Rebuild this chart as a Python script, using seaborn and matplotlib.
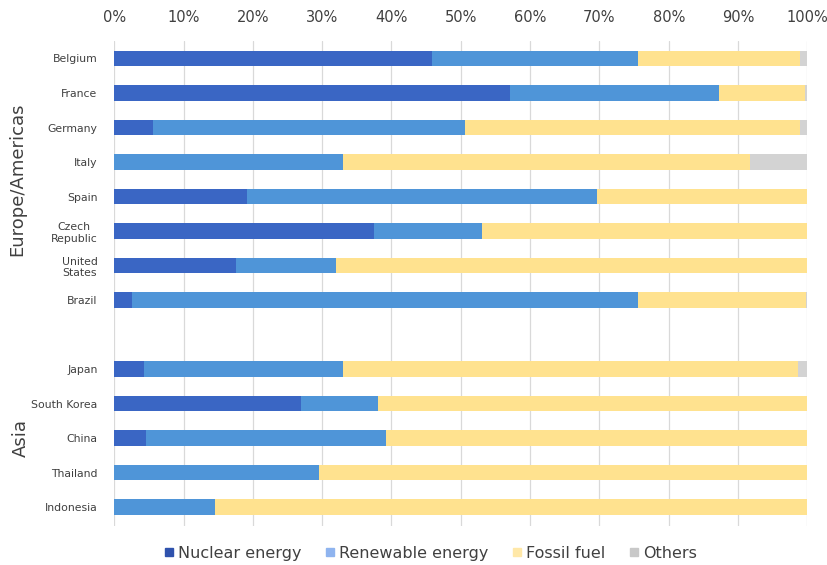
import numpy as np
import pandas as pd
import matplotlib
matplotlib.use("Agg")
import matplotlib.pyplot as plt
import matplotlib.transforms as mtransforms
from matplotlib.lines import Line2D
import seaborn as sns

# Electricity generation mix by source (% share)
europe_americas = ["Belgium", "France", "Germany", "Italy", "Spain",
                   "Czech\nRepublic", "United\nStates", "Brazil"]
asia = ["Japan", "South Korea", "China", "Thailand", "Indonesia"]
countries = europe_americas + asia

nuclear   = [45.9, 57.1, 5.6, 0.0, 19.2, 37.5, 17.6, 2.5, 4.3, 27.0, 4.6, 0.0, 0.0]
renewable = [29.6, 30.1, 45.0, 33.0, 50.5, 15.5, 14.4, 73.0, 28.7, 11.1, 34.6, 29.6, 14.6]
fossil    = [23.5, 12.5, 48.4, 58.8, 30.3, 47.0, 68.0, 24.3, 65.7, 61.9, 60.8, 70.4, 85.4]
others    = [1.0, 0.3, 1.0, 8.2, 0.0, 0.0, 0.0, 0.2, 1.3, 0.0, 0.0, 0.0, 0.0]

sources = ["Nuclear energy", "Renewable energy", "Fossil fuel", "Others"]
colors = ["#3a66c4", "#4f95d8", "#ffe28f", "#d3d3d3"]

df = pd.DataFrame({"country": countries, "Nuclear energy": nuclear,
                   "Renewable energy": renewable, "Fossil fuel": fossil,
                   "Others": others})
# cumulative right-hand edge of each stacked segment
cum = df[sources].cumsum(axis=1)

spacer = " "
order = europe_americas + [spacer] + asia

sns.set_style("white")
plt.rcParams["font.family"] = ["DejaVu Sans"]

fig = plt.figure(figsize=(8.28, 5.65), dpi=100)
ax = fig.add_axes([0.138, 0.069, 0.837, 0.858])

# draw widest cumulative bars first so shorter ones sit on top
for src, col in reversed(list(zip(sources, colors))):
    sns.barplot(x=cum[src], y=df["country"], order=order, color=col,
                orient="h", width=0.44, saturation=1, linewidth=0,
                ax=ax, zorder=3)

ax.set_xlim(0, 100)
ax.set_ylim(len(order) - 0.45, -0.5)
ax.xaxis.tick_top()
ax.set_xticks(np.arange(0, 101, 10))
ax.set_xticklabels([f"{v}%" for v in range(0, 101, 10)], fontsize=10.5,
                   color="#404040")
ax.tick_params(axis="x", length=0, pad=12)
ax.tick_params(axis="y", length=0, pad=12, labelsize=7.8, labelcolor="#404040")
for lbl in ax.get_yticklabels():
    lbl.set_multialignment("center")
ax.set_xlabel("")
ax.set_ylabel("")
ax.grid(axis="x", color="#d9d9d9", linewidth=0.9, zorder=0)
ax.grid(axis="y", visible=False)
for s in ax.spines.values():
    s.set_visible(False)

# group captions on the left margin
trans = mtransforms.blended_transform_factory(fig.transFigure, ax.transData)
eu_mid = (len(europe_americas) - 1) / 2
asia_mid = len(europe_americas) + 1 + (len(asia) - 1) / 2
ax.text(0.021, eu_mid, "Europe/Americas", rotation=90, ha="center",
        va="center", fontsize=13, color="#404040", transform=trans)
ax.text(0.025, asia_mid, "Asia", rotation=90, ha="center", va="center",
        fontsize=13, color="#404040", transform=trans)

handles = [Line2D([], [], marker="s", linestyle="none", markersize=6,
                  markerfacecolor=c, markeredgecolor=c) for c in
           ["#2f52ad", "#8fb4ef", "#ffe8a8", "#c8c8c8"]]
fig.legend(handles, sources, loc="center", bbox_to_anchor=(0.518, 0.021),
           ncol=4, frameon=False, fontsize=11.5, handletextpad=0.05,
           columnspacing=1.3, handlelength=1.0, labelcolor="#404040")

fig.savefig("out.png", dpi=100)
